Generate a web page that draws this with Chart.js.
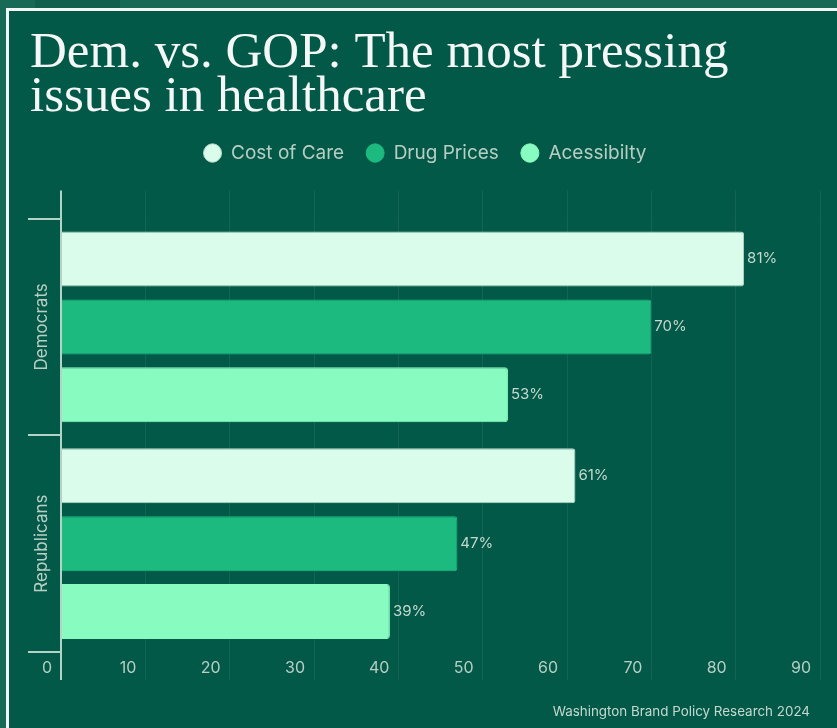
<!DOCTYPE html>
<html>
<head>
<meta charset="utf-8">
<script src="https://cdn.jsdelivr.net/npm/chart.js@4.4.1/dist/chart.umd.min.js"></script>
<style>
  html, body { margin: 0; padding: 0; }
  body { width: 837px; height: 728px; background: #186a57; position: relative; overflow: hidden; }
  #tab { position: absolute; left: 35px; top: 0; width: 85px; height: 8px; background: #11604d; }
  #frame {
    position: absolute; left: 6px; top: 8px; width: 831px; height: 720px;
    box-sizing: border-box; border-top: 3px solid #f3f6f4; border-left: 3px solid #f3f6f4;
    background: #035948;
  }
  #chart { position: absolute; left: 0; top: 0; }
  #source {
    position: absolute; right: 27px; top: 692px;
    font: 13.4px Inter, sans-serif; color: #c6d9d1;
  }
</style>
</head>
<body>
<div id="tab"></div>
<div id="frame">
  <canvas id="chart" width="828" height="717"></canvas>
  <div id="source">Washington Brand Policy Research 2024</div>
</div>
<script>
// data
const parties = ['Democrats', 'Republicans'];
const costOfCare = [81, 61];
const drugPrices = [70, 47];
const accessibility = [53, 39];
const xTicksMax = 90;

const axisColor = '#b3d3c6';
const gridColor = 'rgba(255,255,255,0.07)';
const textColor = '#b6cec4';

// writes "81%" etc just past the end of every bar
const valueLabels = {
    id: 'valueLabels',
    afterDatasetsDraw(chart) {
        const ctx = chart.ctx;
        ctx.save();
        ctx.font = '15px Inter, sans-serif';
        ctx.fillStyle = '#c3d9cf';
        ctx.textAlign = 'left';
        ctx.textBaseline = 'middle';
        chart.data.datasets.forEach((ds, i) => {
            chart.getDatasetMeta(i).data.forEach((bar, j) => {
                ctx.fillText(ds.data[j] + '%', bar.x + 3, bar.y);
            });
        });
        ctx.restore();
    }
};

const zeroLine = (c) => (c.tick && c.tick.value === 0) ? axisColor : gridColor;
const zeroWidth = (c) => (c.tick && c.tick.value === 0) ? 2 : 1;

new Chart(document.getElementById('chart'), {
    type: 'bar',
    data: {
        labels: parties,
        datasets: [
            { label: 'Cost of Care', data: costOfCare, backgroundColor: '#dafcea', borderColor: '#b9d9ca' },
            { label: 'Drug Prices', data: drugPrices, backgroundColor: '#1cba7f', borderColor: '#1cba7f' },
            { label: 'Acessibilty', data: accessibility, backgroundColor: '#88fcc0', borderColor: '#88fcc0' }
        ]
    },
    options: {
        indexAxis: 'y',
        responsive: false,
        animation: false,
        datasets: {
            bar: { categoryPercentage: 0.94, barPercentage: 0.81, borderRadius: 3, borderWidth: 1 }
        },
        layout: { padding: { left: 21, right: 17, top: 0, bottom: 46 } },
        plugins: {
            title: {
                display: true,
                align: 'start',
                text: ['Dem. vs. GOP: The most pressing', 'issues in healthcare'],
                color: '#f4f7f5',
                font: { family: 'Liberation Serif', size: 51, weight: 'normal', lineHeight: 0.863 },
                padding: { top: 21, bottom: 1.5 }
            },
            legend: {
                display: true,
                labels: {
                    color: textColor,
                    font: { family: 'Inter', size: 19 },
                    usePointStyle: true,
                    pointStyle: 'circle',
                    boxHeight: 13,
                    pointStyleWidth: 18,
                    padding: 22
                }
            },
            tooltip: { enabled: false }
        },
        scales: {
            x: {
                position: 'bottom',
                min: 0,
                max: xTicksMax,
                border: { display: false },
                grid: { color: zeroLine, lineWidth: zeroWidth, tickLength: 28 },
                ticks: {
                    stepSize: 10, align: 'end', labelOffset: -9, padding: -21,
                    maxRotation: 0, color: textColor, font: { family: 'Inter', size: 16 }
                },
                afterFit: (scale) => { scale.height = 30; }
            },
            xTop: {
                type: 'linear',
                position: 'top',
                min: 0,
                max: xTicksMax,
                border: { display: false },
                grid: { drawOnChartArea: false, color: zeroLine, lineWidth: zeroWidth, tickLength: 28 },
                ticks: { stepSize: 10, display: false },
                afterFit: (scale) => { scale.height = 46; }
            },
            y: {
                border: { display: false },
                grid: { drawOnChartArea: false, offset: true, color: axisColor, lineWidth: 2, tickLength: 33 },
                ticks: {
                    color: textColor, font: { family: 'Inter', size: 17 },
                    minRotation: 90, maxRotation: 90, crossAlign: 'center', padding: -63, autoSkip: false
                },
                afterFit: (scale) => { scale.width = 31; }
            }
        }
    },
    plugins: [valueLabels]
});
</script>
</body>
</html>
